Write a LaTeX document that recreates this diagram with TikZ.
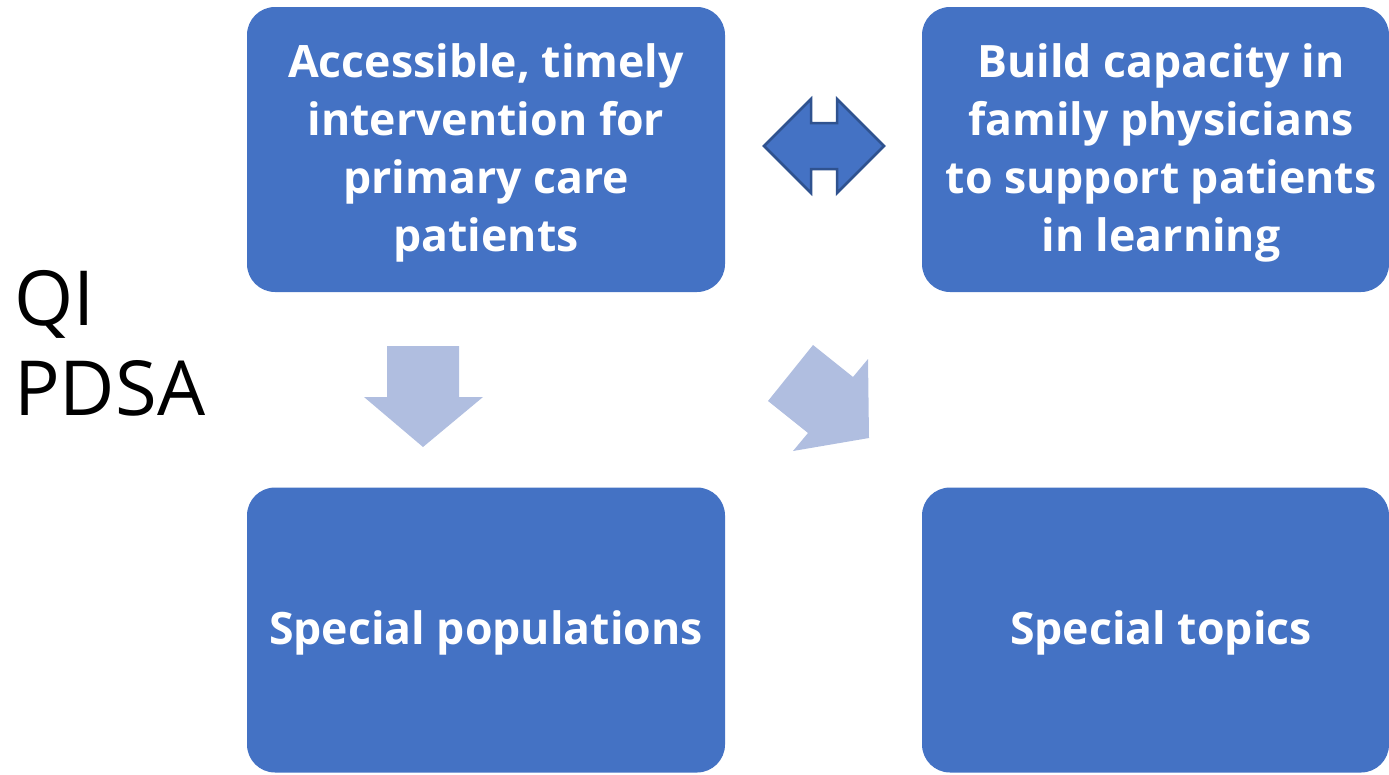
\documentclass[tikz,border=0pt]{standalone}
\usepackage{fontspec}
\setmainfont{Open Sans}
\definecolor{boxblue}{HTML}{4472C4}
\definecolor{edgeblue}{HTML}{2F528F}
\definecolor{paleblue}{HTML}{B0BEE0}
\begin{document}
\begin{tikzpicture}[x=1pt,y=-1pt,
  card/.style={fill=boxblue, rounded corners=28pt, inner sep=0pt,
    minimum width=478pt, minimum height=285pt},
  cardtext/.style={text=white, align=center, inner sep=0pt,
    font=\fontsize{44.6}{58}\selectfont\bfseries},
  bigword/.style={anchor=base west, inner sep=0pt,
    font=\fontsize{76}{90}\selectfont},
  pale/.style={fill=paleblue, draw=none},
  dual/.style={fill=boxblue, draw=edgeblue, line width=2.5pt, line join=miter}]
\useasboundingbox (0,0) rectangle (1389,774);
\begin{scope}
\clip (0,0) rectangle (1389,774);
% the four cards
\node[card] (tl) at (486,149.5) {};
\node[card, minimum width=467pt] (tr) at (1155.5,149.5) {};
\node[card] (bl) at (486,630) {};
\node[card, minimum width=467pt] (br) at (1155.5,630) {};
\end{scope}
\node[cardtext] (tlt) at (486,153) {Accessible, timely\\intervention for\\primary care\\patients};
\node[cardtext] (trt) at (1161,153) {Build capacity in\\family physicians\\to support patients\\in learning};
\node[cardtext] (blt) at (486,633) {Special populations};
\node[cardtext] (brt) at (1161,633) {Special topics};
% side label
\node[bigword] (qi) at (14,325) {QI};
\node[bigword] (pdsa) at (14,415) {PDSA};
% two-headed arrow between the upper cards
\draw[dual] (764,146) -- (811,99) -- (811,123) -- (837,123) -- (837,99)
  -- (884,146) -- (837,193) -- (837,169) -- (811,169) -- (811,193) -- cycle;
% downward arrow
\fill[pale] (387,346) -- (459,346) -- (459,397) -- (483,397) -- (423,447)
  -- (364,397) -- (387,397) -- cycle;
% diagonal arrow
\fill[pale] (813,345) -- (853,377) -- (868,359) -- (869,438) -- (793,451)
  -- (808,433) -- (768,401) -- cycle;
\end{tikzpicture}
\end{document}
